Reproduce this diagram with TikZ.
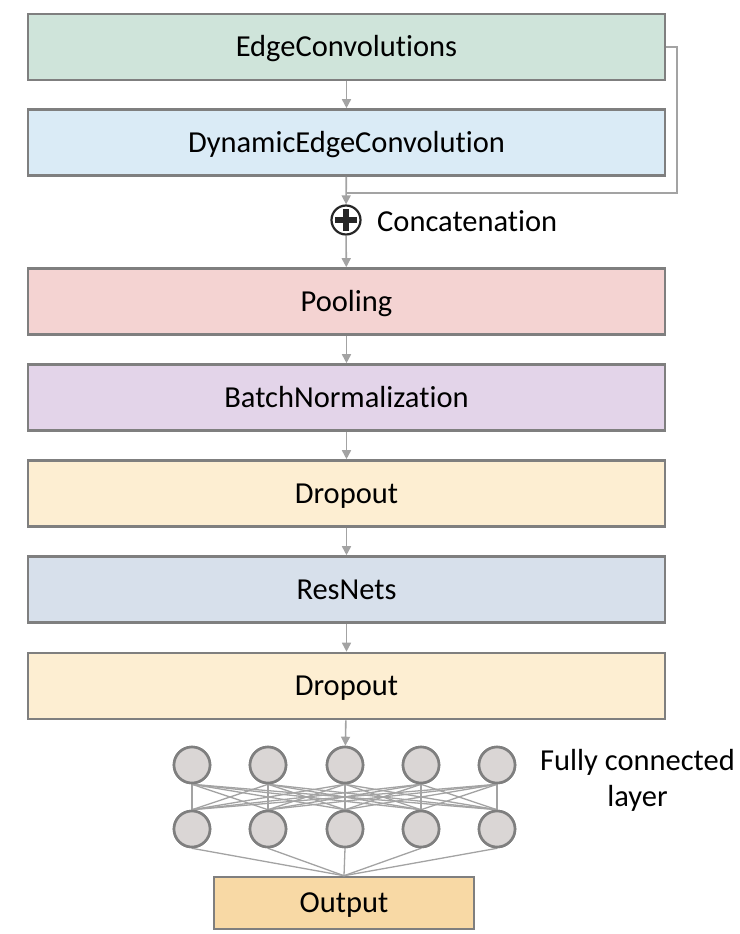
\documentclass[tikz,border=0pt]{standalone}
\usepackage{fontspec}
\setmainfont[Ligatures=NoCommon]{Carlito}
\usetikzlibrary{arrows.meta}

\definecolor{edgeC}{HTML}{CFE4DA}
\definecolor{dynC}{HTML}{DAEBF6}
\definecolor{poolC}{HTML}{F4D3D2}
\definecolor{bnC}{HTML}{E3D4E9}
\definecolor{dropC}{HTML}{FDEED2}
\definecolor{resC}{HTML}{D7E0EB}
\definecolor{outC}{HTML}{F8D9A5}
\definecolor{frameC}{HTML}{7F7F7F}
\definecolor{wireC}{HTML}{A3A3A3}
\definecolor{neuronC}{HTML}{DAD6D5}

\tikzset{
  labelfont/.style={font=\fontsize{30.5}{36}\selectfont},
  layerbox/.style={draw=frameC, line width=2.6pt, minimum width=637pt, minimum height=66pt,
    inner sep=0pt, text height=19.6pt, text depth=0pt, labelfont},
  wire/.style={draw=wireC, line width=1.6pt},
  flow/.style={wire, -{Triangle[length=9pt,width=9pt]}},
  neuron/.style={circle, draw=frameC, line width=2.6pt, fill=neuronC, minimum size=36pt, inner sep=0pt},
  note/.style={labelfont, inner sep=0pt}
}

\begin{document}
\begin{tikzpicture}[x=1pt, y=-1pt]
  \useasboundingbox (0,0) rectangle (739,934);

  % stacked layers
  \node[layerbox, fill=edgeC] (edge) at (346.5,47) {EdgeConvolutions};
  \node[layerbox, fill=dynC]  (dyn)  at (346.5,142.5) {DynamicEdgeConvolution};
  \node[layerbox, fill=poolC] (pool) at (346.5,301.5) {Pooling};
  \node[layerbox, fill=bnC]   (bn)   at (346.5,397.5) {BatchNormalization};
  \node[layerbox, fill=dropC] (drop1) at (346.5,493.5) {Dropout};
  \node[layerbox, fill=resC]  (res)  at (346.5,589.5) {ResNets};
  \node[layerbox, fill=dropC] (drop2) at (346.5,686) {Dropout};

  % concatenation symbol
  \node[circle, draw=black!85, line width=2.2pt, fill=white, minimum size=29pt, inner sep=0pt] (cat) at (346,220) {};
  \draw[black!85, line width=6.5pt] ([yshift=-11pt]cat.center) -- ([yshift=11pt]cat.center)
    ([xshift=-11pt]cat.center) -- ([xshift=11pt]cat.center);
  \node[note, anchor=base west] (catlbl) at (377,231.5) {Concatenation};

  % skip connection around the dynamic edge convolution
  \coordinate (skipA) at (677,47);
  \coordinate (skipB) at (677,193);
  \coordinate (skipC) at (346,193);
  \draw[wire] (edge.east) -- (skipA) -- (skipB) -- (skipC);

  % main flow
  \draw[flow] (edge) -- (dyn);
  \draw[flow] (dyn) -- (cat);
  \draw[flow] (cat) -- (pool);
  \draw[flow] (pool) -- (bn);
  \draw[flow] (bn) -- (drop1);
  \draw[flow] (drop1) -- (res);
  \draw[flow] (res) -- (drop2);

  % fully connected layer
  \foreach \i/\x in {1/192,2/268,3/345,4/421,5/497} {
    \node[neuron] (a\i) at (\x,765) {};
    \node[neuron] (b\i) at (\x,829) {};
  }
  \node[draw=frameC, line width=2.6pt, fill=outC, minimum width=260pt, minimum height=52pt,
    inner sep=0pt, text height=19.6pt, text depth=0pt, labelfont] (out) at (344,903) {Output};

  \foreach \i in {1,...,5} {
    \foreach \j in {1,...,5} {
      \draw[wire, line width=1.3pt] (a\i.south) -- (b\j.north);
    }
    \draw[wire, line width=1.3pt] (b\i.south) -- (out.north);
  }
  % neurons drawn again on top of their wires
  \foreach \i/\x in {1/192,2/268,3/345,4/421,5/497} {
    \node[neuron] at (\x,765) {};
    \node[neuron] at (\x,829) {};
  }
  \draw[flow] (drop2) -- (a3);

  \node[note, align=center, anchor=base] (fclbl) at (637.5,806.5) {Fully connected\\layer};
\end{tikzpicture}
\end{document}
